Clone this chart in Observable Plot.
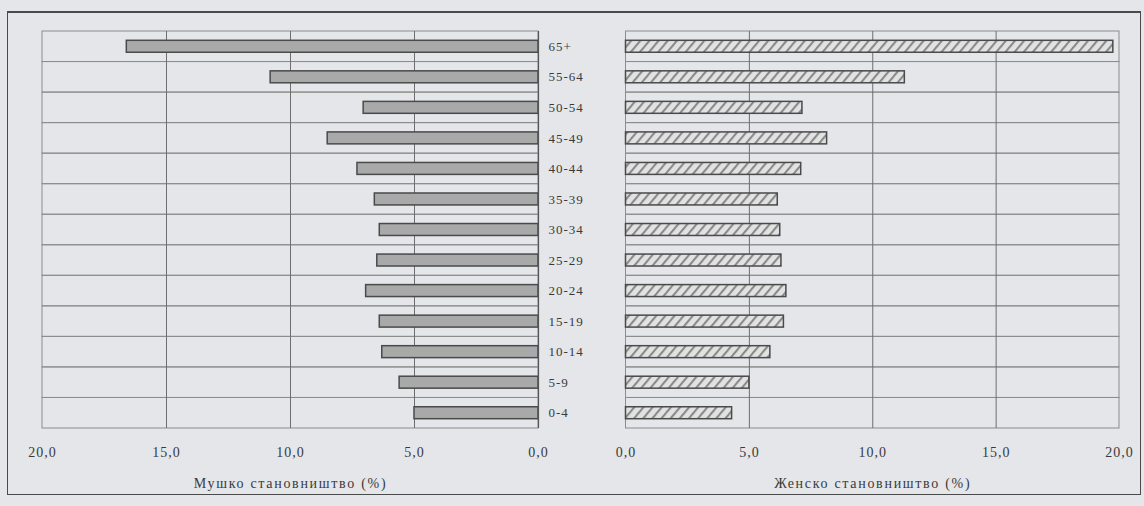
<!DOCTYPE html>
<html><head><meta charset="utf-8">
<script src="https://cdn.jsdelivr.net/npm/d3@7"></script>
<script src="https://cdn.jsdelivr.net/npm/@observablehq/plot@0.6"></script>
<style>
body{margin:0;background:#e4e6ea;}
#wrap{position:relative;width:1144px;height:506px;overflow:hidden;background:#e4e6ea;}
#frame{position:absolute;left:7px;top:11px;width:1134px;height:484px;border:1.5px solid #4a4a4a;border-top-width:2px;box-sizing:border-box;}
#left,#right{position:absolute;top:0;}
#left{left:0}
#right{left:600px}
#wrap svg, #wrap svg text{font-family:"Liberation Serif", "Times New Roman", serif !important;}
#wrap svg text{fill:#3a3a3a;}
#wrap svg [aria-label="x-axis tick label"] text{font-size:14px;letter-spacing:1px;}
#wrap svg [aria-label="x-axis label"] text{font-size:14px;letter-spacing:1.7px;}
#wrap svg [aria-label="y-axis tick label"] text{font-size:13px;letter-spacing:1px;}
</style></head><body>
<div id="wrap"><div id="frame"></div><div id="left"></div><div id="right"></div></div>
<script>
const ages = ["0-4","5-9","10-14","15-19","20-24","25-29","30-34","35-39","40-44","45-49","50-54","55-64","65+"];
const male = [5.0, 5.6, 6.3, 6.4, 6.95, 6.5, 6.4, 6.6, 7.3, 8.5, 7.05, 10.8, 16.6];
const female = [4.3, 5.0, 5.85, 6.4, 6.5, 6.3, 6.25, 6.15, 7.1, 8.15, 7.15, 11.3, 19.75];
const xTicks = [0, 5, 10, 15, 20];
const gridTicks = [5, 10, 15];
const maleLabel = "Мушко становништво (%)";
const femaleLabel = "Женско становништво (%)";

const rows = ages.map((a, i) => ({age: a, male: male[i], female: female[i]}));
const order = ages.slice().reverse();
const fmt = d => d.toFixed(1).replace(".", ",");
const rowInset = 9.3;
const common = {
  height: 506, marginTop: 31, marginBottom: 78,
  style: {background: "transparent", fontFamily: "Liberation Serif", fontSize: "13px", color: "#3a3a3a", overflow: "visible"}
};

const leftPlot = Plot.plot({
  ...common, width: 600, marginLeft: 42, marginRight: 62,
  x: {domain: [0, 20], reverse: true},
  y: {domain: order, padding: 0, round: false},
  marks: [
    Plot.barX(ages, {x1: 0, x2: 20, y: d => d, fill: "none", stroke: "#8c8c8c", strokeWidth: 1}),
    Plot.gridX({ticks: gridTicks, stroke: "#6e6e6e", strokeOpacity: 1}),
    Plot.barX(rows, {x: "male", y: "age", fill: "#a9a9a9", stroke: "#4a4a4a", strokeWidth: 1.5, insetTop: rowInset, insetBottom: rowInset}),
    Plot.ruleX([0], {stroke: "#555", strokeWidth: 1.2}),
    Plot.axisX({ticks: xTicks, tickFormat: fmt, tickSize: 0, tickPadding: 19, label: maleLabel, labelAnchor: "center", labelOffset: 59, labelArrow: "none"}),
    Plot.axisY({anchor: "right", tickSize: 0, tickPadding: 10, label: null})
  ]
});

const rightPlot = Plot.plot({
  ...common, width: 544, marginLeft: 25.5, marginRight: 25,
  x: {domain: [0, 20]},
  y: {domain: order, padding: 0, round: false, axis: null},
  marks: [
    Plot.barX(ages, {x1: 0, x2: 20, y: d => d, fill: "none", stroke: "#8c8c8c", strokeWidth: 1}),
    Plot.gridX({ticks: gridTicks, stroke: "#6e6e6e", strokeOpacity: 1}),
    Plot.barX(rows, {x: "female", y: "age", fill: "url(#hatch)", stroke: "#4a4a4a", strokeWidth: 1.5, insetTop: rowInset, insetBottom: rowInset}),
    Plot.axisX({ticks: xTicks, tickFormat: fmt, tickSize: 0, tickPadding: 19, label: femaleLabel, labelAnchor: "center", labelOffset: 59, labelArrow: "none"})
  ]
});

const defs = document.createElementNS("http://www.w3.org/2000/svg", "defs");
defs.innerHTML = '<pattern id="hatch" patternUnits="userSpaceOnUse" width="7" height="7" patternTransform="rotate(40)">' +
  '<rect width="7" height="7" fill="#e2e2e2"></rect>' +
  '<line x1="1" y1="0" x2="1" y2="7" stroke="#8a8a8a" stroke-width="2.2"></line></pattern>';
rightPlot.insertBefore(defs, rightPlot.firstChild);

document.getElementById("left").appendChild(leftPlot);
document.getElementById("right").appendChild(rightPlot);
</script>
</body></html>
